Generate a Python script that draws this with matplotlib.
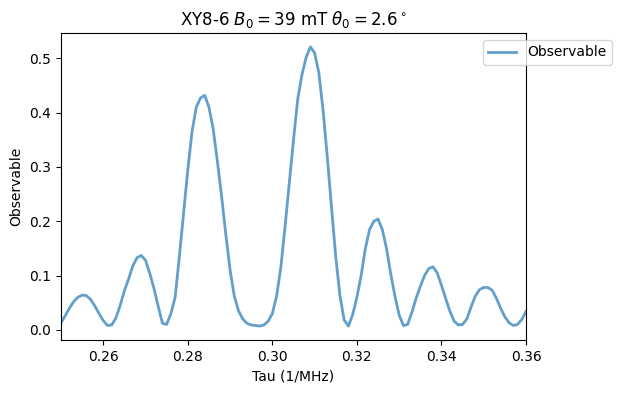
import numpy as np
import matplotlib
matplotlib.use("Agg")
import matplotlib.pyplot as plt

# tau grid, 1 ns steps
tau = np.linspace(0.25, 0.36, 111)

observable = [
    0.013, 0.026, 0.040, 0.052, 0.060, 0.064, 0.063, 0.056, 0.044, 0.030,
    0.017, 0.008, 0.009, 0.022, 0.045, 0.072, 0.094, 0.118, 0.133, 0.137,
    0.128, 0.104, 0.076, 0.043, 0.012, 0.010, 0.030, 0.060, 0.135, 0.215,
    0.295, 0.365, 0.410, 0.427, 0.432, 0.410, 0.370, 0.310, 0.245, 0.175,
    0.110, 0.062, 0.035, 0.020, 0.012, 0.009, 0.008, 0.007, 0.009, 0.016,
    0.030, 0.062, 0.115, 0.190, 0.270, 0.350, 0.425, 0.470, 0.502, 0.521,
    0.510, 0.473, 0.404, 0.318, 0.225, 0.134, 0.062, 0.018, 0.007, 0.028,
    0.060, 0.100, 0.150, 0.185, 0.200, 0.204, 0.185, 0.150, 0.103, 0.062,
    0.027, 0.008, 0.010, 0.032, 0.058, 0.080, 0.100, 0.113, 0.116, 0.105,
    0.082, 0.058, 0.034, 0.016, 0.009, 0.010, 0.020, 0.042, 0.062, 0.074,
    0.078, 0.078, 0.073, 0.058, 0.040, 0.024, 0.013, 0.008, 0.010, 0.019,
    0.034,
]

fig = plt.figure(figsize=(6.22, 3.93), dpi=100)
ax = fig.add_axes([61 / 622, 53 / 393, 465 / 622, 307 / 393])

ax.plot(tau, observable, lw=2, alpha=0.7, label="Observable")
ax.set_xlim(0.25, 0.36)
ax.set_title(r"XY8-6 $B_0 = 39$ mT $\theta_0 = 2.6^\circ$")
ax.set_xlabel("Tau (1/MHz)")
ax.set_ylabel("Observable")
ax.legend(loc="upper right", bbox_to_anchor=(1.2, 1))

fig.savefig("out.png", dpi=100)
